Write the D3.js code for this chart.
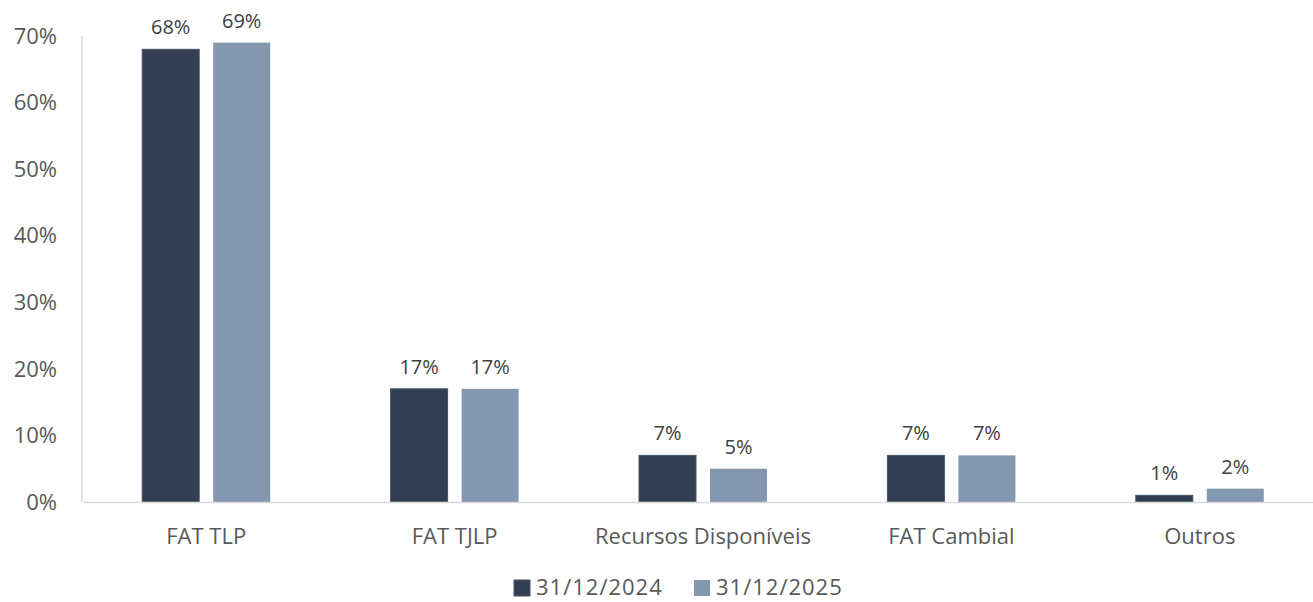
<!DOCTYPE html>
<html>
<head>
<meta charset="utf-8">
<script src="https://cdn.jsdelivr.net/npm/d3@7"></script>
<style>
  body { margin: 0; background: #fff; }
  svg { font-family: "Open Sans", sans-serif; }
</style>
</head>
<body>
<svg id="chart" width="1313" height="602"></svg>
<script>
var categories = ["FAT TLP", "FAT TJLP", "Recursos Disponíveis", "FAT Cambial", "Outros"];
var seriesNames = ["31/12/2024", "31/12/2025"];
var values2024 = [68, 17, 7, 7, 1];
var values2025 = [69, 17, 5, 7, 2];
var yTicks = [0, 10, 20, 30, 40, 50, 60, 70];
var colors = ["#333f50", "#8497b0"];

var svg = d3.select("svg#chart"),
    margin = {top: 36, left: 82, bottom: 100},
    width = 1242,
    height = 602 - margin.top - margin.bottom;

var g = svg.append("g").attr("transform", "translate(" + margin.left + "," + margin.top + ")");

var x = d3.scaleBand().domain(categories).range([0, width]);
var y = d3.scaleLinear().domain([0, 70]).range([height, 0]);

var barW = 57, gap = 14;
var xs = d3.scaleOrdinal().domain(seriesNames).range([-(gap / 2) - barW, gap / 2]);

// y axis: labels plus a plain line
g.append("line")
    .attr("x1", 0).attr("x2", 0)
    .attr("y1", 0).attr("y2", height)
    .attr("stroke", "#d9d9d9").attr("stroke-width", 1.5);

g.selectAll(".ytick")
    .data(yTicks)
    .enter().append("text")
    .attr("class", "ytick")
    .attr("x", -25)
    .attr("y", function (d) { return y(d); })
    .attr("dy", "0.35em")
    .attr("text-anchor", "end")
    .attr("fill", "#595959")
    .style("font-size", "22px")
    .text(function (d) { return d + "%"; });

var series = [values2024, values2025];
series.forEach(function (vals, i) {
    var name = seriesNames[i];
    var rows = categories.map(function (c, j) { return {cat: c, v: vals[j]}; });

    g.selectAll(".bar" + i)
        .data(rows)
        .enter().append("rect")
        .attr("class", "bar" + i)
        .attr("x", function (d) { return x(d.cat) + x.bandwidth() / 2 + xs(name); })
        .attr("y", function (d) { return y(d.v); })
        .attr("width", barW)
        .attr("height", function (d) { return height - y(d.v); })
        .attr("fill", colors[i])
        .attr("stroke", i === 0 ? "#44546a" : "none")
        .attr("stroke-width", 1);

    g.selectAll(".lbl" + i)
        .data(rows)
        .enter().append("text")
        .attr("class", "lbl" + i)
        .attr("x", function (d) { return x(d.cat) + x.bandwidth() / 2 + xs(name) + barW / 2; })
        .attr("y", function (d) { return y(d.v) - 15; })
        .attr("text-anchor", "middle")
        .attr("fill", "#404040")
        .style("font-size", "20px")
        .text(function (d) { return d.v + "%"; });
});

// x axis
var xAxis = d3.axisBottom(x).tickSize(0).tickPadding(26);
var xg = g.append("g")
    .attr("class", "x axis")
    .attr("transform", "translate(0," + height + ")")
    .call(xAxis)
    .attr("font-family", null);
xg.select(".domain").attr("stroke", "#d9d9d9").attr("stroke-width", 1.5);
xg.selectAll("text").attr("fill", "#595959").style("font-size", "22px");

// legend
var legend = svg.append("g").attr("transform", "translate(514,586)");
var lx = [0, 180];
seriesNames.forEach(function (name, i) {
    var item = legend.append("g").attr("transform", "translate(" + lx[i] + ",0)");
    item.append("rect")
        .attr("x", 0).attr("y", -6)
        .attr("width", 16).attr("height", 16)
        .attr("fill", colors[i])
        .attr("stroke", i === 0 ? "#44546a" : "none");
    item.append("text")
        .attr("x", 22).attr("y", 0)
        .attr("dy", "0.4em")
        .attr("fill", "#595959")
        .style("font-size", "22px")
        .style("letter-spacing", "1px")
        .text(name);
});
</script>
</body>
</html>
